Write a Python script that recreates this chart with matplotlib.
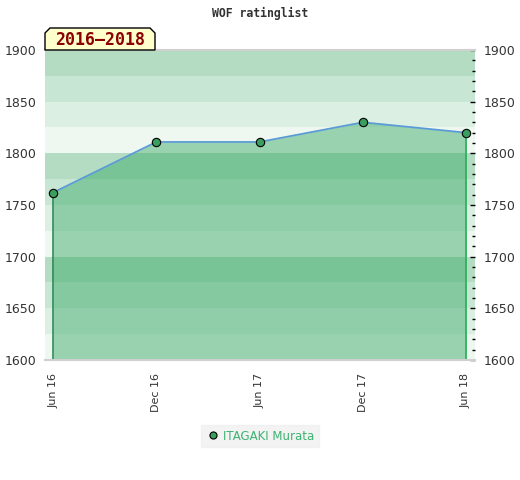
import numpy as np
import matplotlib
matplotlib.use('Agg')
import matplotlib.pyplot as plt
from matplotlib.patches import Polygon

# du lieu
thang = ['Jun 16', 'Dec 16', 'Jun 17', 'Dec 17', 'Jun 18']
rating = [1762, 1811, 1811, 1830, 1820]
ten = 'ITAGAKI Murata'
khoang = '2016\u20132018'

x = np.arange(len(thang))

fig = plt.figure(figsize=(5.2, 4.8), dpi=100)
ax = fig.add_axes([45/520, 1-360/480, 430/520, 310/480])

# nen soc ngang
mau_nen = ['#b3dcc2', '#c8e6d4', '#dcefe3', '#eff7f1']
for k, y0 in enumerate(range(1900, 1600, -25)):
    ax.axhspan(y0-25, y0, color=mau_nen[k % 4], lw=0, zorder=0)

ax.fill_between(x, rating, 1600, color='#3baa68', alpha=0.48, lw=0, zorder=1)
ax.vlines(x[0], 1600, rating[0], color='#2e8b57', lw=1.2, zorder=2)
ax.vlines(x[-1], 1600, rating[-1], color='#2db35d', lw=1.3, zorder=2)
ax.plot(x, rating, color='#5b9bd5', lw=1.3, zorder=3)
ax.plot(x, rating, 'o', color='#3a9e5e', mec='black', mew=0.8, ms=6, zorder=4,
        label=ten)

ax.set_xlim(-0.078, 4.087)
ax.set_ylim(1600, 1900)
ax.set_xticks(x)
ax.set_xticklabels(thang, rotation=90, fontsize=8, color='#333333')
ax.tick_params(axis='x', length=0, pad=9)

ax.set_yticks(range(1600, 1901, 50))
ax.set_yticks(range(1600, 1901, 10), minor=True)
ax.tick_params(axis='y', which='both', left=False, right=True, labelleft=True,
               labelright=True, direction='in', labelsize=9, labelcolor='#333333')
ax.tick_params(axis='y', which='major', length=3.5, width=1, pad=6)
ax.tick_params(axis='y', which='minor', length=2.5, width=1)

for s in ['left', 'right']:
    ax.spines[s].set_visible(False)
for s in ['top', 'bottom']:
    ax.spines[s].set_color('#d0d0d0')
    ax.spines[s].set_linewidth(1.5)

fig.text(0.5, 1-13/480, 'WOF ratinglist', ha='center', va='center',
         family='DejaVu Sans Mono', fontweight='bold', fontsize=8.3, color='#333333')

# nhan khoang thoi gian
px = [(45, 50), (45, 33), (50, 28), (150, 28), (155, 33), (155, 50)]
pts = [(a/520, 1-b/480) for a, b in px]
fig.patches.append(Polygon(pts, closed=True, transform=fig.transFigure,
                           facecolor='#ffffcc', edgecolor='black', lw=1, zorder=5))
fig.text(100/520, 1-40/480, khoang, ha='center', va='center', fontsize=12,
         family='DejaVu Sans Mono', fontweight='bold', color='#8b0000', zorder=6)

leg = fig.legend(loc='center', bbox_to_anchor=(260/520, 1-436/480), frameon=True,
                 fontsize=8.5, labelcolor='#3cb371', handletextpad=0.3,
                 borderpad=0.35, handlelength=1.2, fancybox=False, markerscale=0.85)
leg.get_frame().set_facecolor('#f0f0f0')
leg.get_frame().set_edgecolor('#f0f0f0')

fig.savefig('out.png', dpi=100)
